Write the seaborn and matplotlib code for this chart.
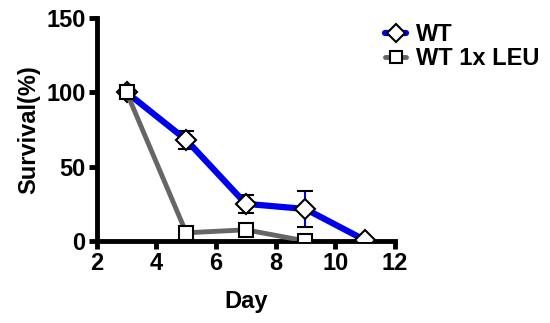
import pandas as pd
import matplotlib
matplotlib.use('Agg')
import matplotlib.pyplot as plt
import seaborn as sns

days = [3, 5, 7, 9, 11]
wt_surv = [100, 68, 25, 21.5, 0.5]
wt_err = [0, 6, 6, 12, 0]
leu_days = [3, 5, 7, 9]
leu_surv = [100, 5.5, 7.5, 0]

df = pd.concat([
    pd.DataFrame({'Day': days, 'Survival': wt_surv, 'group': 'WT'}),
    pd.DataFrame({'Day': leu_days, 'Survival': leu_surv, 'group': 'WT 1x LEU'}),
])

BLUE = '#0000ee'
GREY = '#666666'

sns.set_style('ticks')
plt.rcParams['font.family'] = ['Liberation Sans', 'DejaVu Sans']
plt.rcParams['font.weight'] = 'bold'
for k in ['text.color', 'axes.labelcolor', 'xtick.color', 'ytick.color', 'axes.edgecolor']:
    plt.rcParams[k] = 'black'

fig = plt.figure(figsize=(5.5, 3.23), dpi=100)
ax = fig.add_axes([0.176, 0.254, 0.542, 0.69])

ax.errorbar(days, wt_surv, yerr=wt_err, fmt='none', ecolor=BLUE,
            elinewidth=1.5, capsize=5.5, capthick=1.5, zorder=2)

sns.lineplot(data=df, x='Day', y='Survival', hue='group', style='group',
             palette={'WT': BLUE, 'WT 1x LEU': GREY},
             markers={'WT': 'D', 'WT 1x LEU': 's'}, dashes=False,
             markersize=10, markeredgewidth=1.5, ax=ax, zorder=3)

for l in ax.get_lines():
    l.set_markerfacecolor('white')
    l.set_markeredgecolor('black')
    l.set_markeredgewidth(1.5)
    if l.get_color() == BLUE:
        l.set_linewidth(4.5)
        l.set_markersize(10.5)
    elif l.get_color() == GREY:
        l.set_linewidth(3.5)
        l.set_markersize(10)

ax.set_xlim(2, 12)
ax.set_ylim(0, 150)
ax.set_xticks([2, 4, 6, 8, 10, 12])
ax.set_yticks([0, 50, 100, 150])
ax.set_xlabel('Day', fontsize=17, fontweight='bold', labelpad=11)
ax.set_ylabel('Survival(%)', fontsize=17, fontweight='bold', labelpad=4)
ax.tick_params(width=3.5, length=6, labelsize=17, pad=2, colors='black')
for lab in ax.get_xticklabels() + ax.get_yticklabels():
    lab.set_fontweight('bold')
sns.despine(ax=ax)
for s in ['left', 'bottom']:
    ax.spines[s].set_linewidth(3.5)
    ax.spines[s].set_color('black')
    ax.spines[s].set_clip_on(False)

handles, labels = ax.get_legend_handles_labels()
leg = ax.legend(handles, labels, loc='upper left', bbox_to_anchor=(0.935, 1.02),
                frameon=False, fontsize=17, handlelength=0.9, handletextpad=0.4,
                labelspacing=0.05, borderaxespad=0)
for h, lw in zip(leg.legend_handles, [4.5, 3.5]):
    h.set_markerfacecolor('white')
    h.set_markeredgecolor('black')
    h.set_markeredgewidth(1.5)
    h.set_markersize(9)
    h.set_linewidth(lw)
for t in leg.get_texts():
    t.set_fontweight('bold')

plt.savefig('out.png', dpi=100)
